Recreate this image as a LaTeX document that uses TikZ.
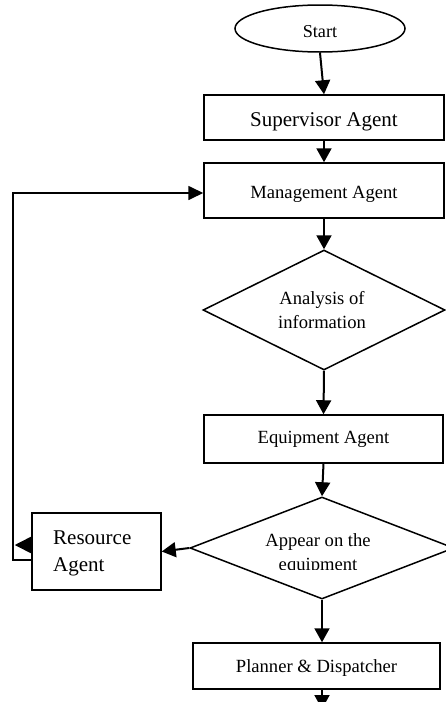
\documentclass[tikz,border=0pt]{standalone}
\usepackage{fontspec}
\setmainfont{Liberation Serif}
\usetikzlibrary{shapes.geometric,arrows.meta,calc}
\tikzset{
  box/.style={draw, line width=1.5pt, rectangle, inner sep=0pt, font=\fontsize{18.6}{24}\selectfont},
  dia/.style={draw, line width=1.5pt, diamond, inner sep=0pt},
  lbl/.style={font=\fontsize{18.6}{24}\selectfont, inner sep=0pt, align=center},
  biglbl/.style={font=\fontsize{21}{27}\selectfont, inner sep=0pt, align=left},
  arr/.style={line width=2pt, -{Triangle[length=14pt,width=15pt]}},
  fbline/.style={line width=1.7pt, -{Triangle[length=15pt,width=14pt]}},
  tiponly/.style={line width=1.5pt, -{Triangle[length=16pt,width=16pt]}}
}
\begin{document}
\begin{tikzpicture}[x=1pt,y=-1pt]
\useasboundingbox (0,0) rectangle (446,702);
% nodes
\node[draw, ellipse, line width=1.5pt, minimum width=170pt, minimum height=47pt, inner sep=0pt,
      text height=17.6pt, text depth=0pt,
      font=\fontsize{18.2}{22}\selectfont] (start) at (320,28.5) {Start};
\node[box, minimum width=240pt, minimum height=45pt, text height=18.4pt, text depth=0pt,
      font=\fontsize{21}{27}\selectfont] (sup) at (324,117.5) {Supervisor Agent};
\node[box, minimum width=240pt, minimum height=55pt, text height=15pt, text depth=0pt] (man) at (324,190.5) {Management Agent};
\node[dia, minimum width=242pt, minimum height=120pt] (d1) at (324,310) {};
\node[lbl] (d1t) at (322,310) {Analysis of\\information};
\node[box, minimum width=239pt, minimum height=48pt] (eq) at (323.5,439) {Equipment Agent};
\node[dia, minimum width=264pt, minimum height=102pt] (d2) at (322,548) {};
\begin{scope}
  \clip (195,500) rectangle (446,569);
  \node[lbl] (d2t) at (318,554.5) {Appear on the\\equipment};
\end{scope}
\node[box, minimum width=129pt, minimum height=77pt] (res) at (96.5,551.5) {};
\node[biglbl, anchor=west] (rest) at (53,553.8) {Resource\\Agent};
\node[box, minimum width=247pt, minimum height=46pt, text height=13.4pt, text depth=0pt] (plan) at (316.5,666) {Planner \& Dispatcher};
\coordinate (endp) at (322,709);
% connectors
\draw[arr] (start.south) -- (sup.north);
\draw[arr] (sup.south) -- (man.north);
\draw[arr] (man.south) -- (d1.north);
\draw[arr] (d1.south) -- (eq.north);
\draw[arr] (eq.south) -- (d2.north);
\draw[arr] (d2.south) -- (d2.south |- plan.north);
\draw[arr] (plan.south -| d2.south) -- (endp);
\draw[arr] (d2.west) -- (res.east);
\draw[fbline] ($(res.west)+(0,8.5)$) -- ++(-18,0) |- ($(man.west)+(0,2.5)$);
\draw[tiponly] ($(res.west)+(0,-6.5)$) -- ++(-16.5,0);
\end{tikzpicture}
\end{document}
